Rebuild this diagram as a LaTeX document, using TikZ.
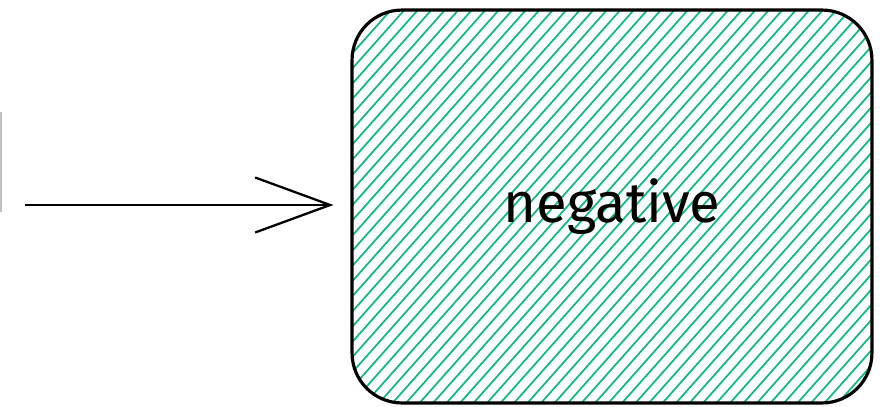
\documentclass[tikz,border=0pt]{standalone}
\usepackage{fontspec}
\newfontfamily\handfont{Fira Sans}
\usetikzlibrary{arrows.meta,calc}
\definecolor{hatchgreen}{RGB}{18,184,134}

\begin{document}
\begin{tikzpicture}[x=0.02cm, y=-0.02cm,
  hatch/.style={draw=hatchgreen, line width=1pt},
  box/.style={draw=black, line width=1.8pt, rounded corners=1cm,
    minimum width=10.4cm, minimum height=7.86cm,
    font=\handfont\fontsize{32}{38}\selectfont},
  flow/.style={draw=black, line width=1.3pt,
    -{Straight Barb[length=1.5cm, width=1.1cm, line width=1.3pt]}}]
  \useasboundingbox (0,0) rectangle (883,406);
  % cut-off shape at the left edge
  \draw[black!25, line width=0.8pt] (1,112) -- (1,212);
  % hatched box
  \node[box, path picture={
      \foreach \k in {-32,...,40}
        \draw[hatch] ($(path picture bounding box.south west)+(\k*13.5,0)$) -- ++(400,-450);
    }] (neg) at (612,206.5) {negative};
  % arrow into the box
  \coordinate (src) at (25,205);
  \draw[flow, shorten >=0.34cm] (src) -- (src -| neg.west);
\end{tikzpicture}
\end{document}
